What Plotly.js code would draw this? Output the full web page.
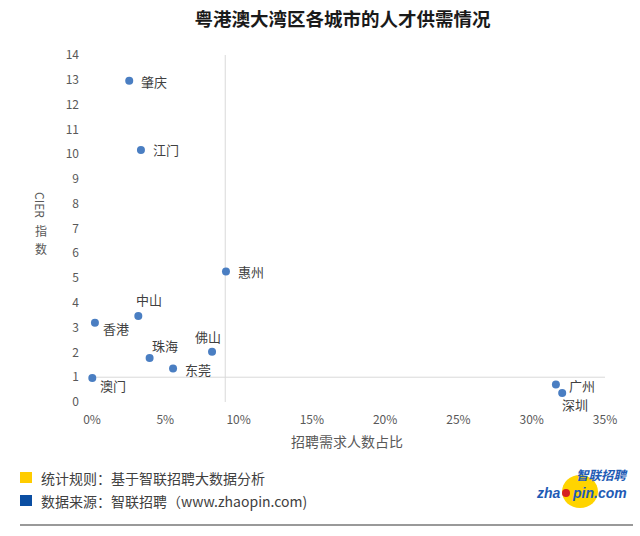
<!DOCTYPE html>
<html>
<head>
<meta charset="utf-8">
<script src="https://cdn.plot.ly/plotly-3.0.1.min.js"></script>
<style>
html,body{margin:0;padding:0;background:#fff;}
#chart{width:640px;height:536px;}
</style>
</head>
<body>
<div id="chart"></div>
<script>
// ---- data ----
const cities = ["肇庆","江门","惠州","中山","香港","佛山","珠海","东莞","澳门","广州","深圳"];
const demandShare = [0.0254,0.0334,0.0914,0.0316,0.0020,0.0819,0.0393,0.0553,0.0002,0.3165,0.3208];
const cierIndex = [12.96,10.17,5.27,3.47,3.20,2.03,1.78,1.35,0.97,0.71,0.36];
const xCross = 0.0909;   // axis crossing (average share)
const yCross = 1;        // axis crossing (CIER = 1)
const chartTitle = "粤港澳大湾区各城市的人才供需情况";
const xTitle = "招聘需求人数占比";
const footnotes = ["统计规则：基于智联招聘大数据分析","数据来源：智联招聘（www.zhaopin.com)"];

// ---- styles ----
const FONT = '"Noto Sans CJK SC", "Microsoft YaHei", sans-serif';
const labelShift = {
  "肇庆":[25,-1],"江门":[25,0],"惠州":[25,0],"中山":[11,16],"香港":[21,-6],
  "佛山":[-4,15],"珠海":[15,12],"东莞":[25,-1],"澳门":[21,-8],"广州":[26,-1],"深圳":[13,-11]
};
const L=92, R=605, T=55, B=402;
const W=R-L, H=B-T;
const px=(x)=>(x-L)/W, py=(y)=>(B-y)/H;

const trace = {
  type:'scatter', mode:'markers', x:demandShare, y:cierIndex,
  marker:{color:'#4a7ec2', size:8}, cliponaxis:false, hoverinfo:'skip'
};

const annotations = cities.map((c,i)=>({
  x:demandShare[i], y:cierIndex[i], xref:'x', yref:'y', text:c, showarrow:false,
  xshift:labelShift[c][0], yshift:labelShift[c][1],
  font:{family:FONT,size:13,color:'#404040'}
}));

function pa(x,y,text,font,extra){
  return Object.assign({xref:'paper',yref:'paper',x:px(x),y:py(y),text:text,showarrow:false,
    xanchor:'center',yanchor:'middle',font:font},extra||{});
}
const footFont={family:FONT,size:14,color:'#404040'};
const logoFont={family:'"Liberation Sans", Arial, sans-serif',size:14,color:'#1f5bb5'};
const yTitleFont={family:FONT,size:12,color:'#595959'};

annotations.push(
  pa(347,441,xTitle,{family:FONT,size:14,color:'#595959'}),
  pa(41,205,'CIER',yTitleFont,{textangle:90}),
  pa(41,230,'指',yTitleFont),
  pa(41,248,'数',yTitleFont),
  pa(39,478,footnotes[0],footFont,{xanchor:'left'}),
  pa(39,501,footnotes[1],footFont,{xanchor:'left'}),
  pa(602,475,'<b><i>智联招聘</i></b>',{family:FONT,size:12.5,color:'#1f5bb5'}),
  pa(563,493,'<b><i>zha</i></b>',logoFont,{xanchor:'right'}),
  pa(570,493,'<b><i>pin.com</i></b>',logoFont,{xanchor:'left'})
);

const shapes = [
  {type:'line',xref:'x',yref:'y',x0:0,x1:0.35,y0:yCross,y1:yCross,line:{color:'#d9d9d9',width:1},layer:'below'},
  {type:'line',xref:'x',yref:'y',x0:xCross,x1:xCross,y0:0,y1:14,line:{color:'#d9d9d9',width:1},layer:'below'},
  {type:'rect',xref:'paper',yref:'paper',x0:px(20),x1:px(32),y0:py(483),y1:py(472),fillcolor:'#ffcc00',line:{width:0}},
  {type:'rect',xref:'paper',yref:'paper',x0:px(20),x1:px(32),y0:py(506),y1:py(495),fillcolor:'#0b4ea2',line:{width:0}},
  {type:'line',xref:'paper',yref:'paper',x0:px(20),x1:px(633),y0:py(525),y1:py(525),line:{color:'#999999',width:2}},
  {type:'circle',xref:'paper',yref:'paper',x0:px(562),x1:px(598),y0:py(508),y1:py(475),fillcolor:'#ffd400',line:{width:0},layer:'below'},
  {type:'circle',xref:'paper',yref:'paper',x0:px(562),x1:px(570),y0:py(497),y1:py(489),fillcolor:'#d62020',line:{width:0}}
];

const layout = {
  width:640, height:536,
  margin:{l:L, r:640-R, t:T, b:536-B, pad:0},
  paper_bgcolor:'#fff', plot_bgcolor:'#fff',
  showlegend:false,
  title:{text:'<b>'+chartTitle+'</b>', x:342.5/640, xanchor:'center', y:1-20/536, yanchor:'middle', yref:'container',
         font:{family:FONT,size:18.5,color:'#1a1a1a'}},
  xaxis:{range:[0,0.35], dtick:0.05, tickformat:'.0%', showgrid:false, zeroline:false, showline:false,
         ticks:'', ticklabelstandoff:9, tickfont:{family:FONT,size:12,color:'#595959'}, fixedrange:true},
  yaxis:{range:[0,14], dtick:1, showgrid:false, zeroline:false, showline:false,
         ticks:'', ticklabelstandoff:12, tickfont:{family:FONT,size:12,color:'#595959'}, fixedrange:true},
  annotations:annotations, shapes:shapes
};

Plotly.newPlot('chart',[trace],layout,{displayModeBar:false,staticPlot:true});
</script>
</body>
</html>
